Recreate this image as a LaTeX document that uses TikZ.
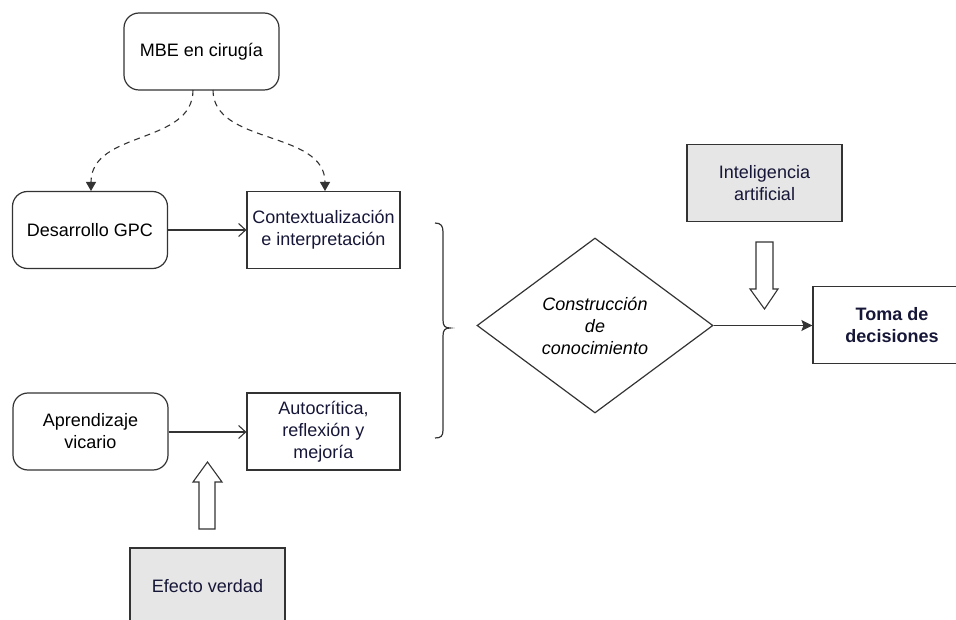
\documentclass[tikz,border=0pt]{standalone}
\usepackage{fontspec}
\setmainfont{Liberation Sans}
\usetikzlibrary{arrows.meta,shapes.geometric}
\definecolor{ln}{HTML}{333333}
\definecolor{gfill}{HTML}{E6E6E6}
\definecolor{navy}{HTML}{161638}
\begin{document}
\begin{tikzpicture}[x=1pt,y=-1pt,
  every node/.style={font=\fontsize{18}{22}\selectfont, align=center, text=black, inner sep=2pt},
  rbox/.style={draw=ln, line width=1.2pt, rounded corners=15pt, minimum width=155pt, minimum height=77pt},
  sbox/.style={draw=ln, line width=1.2pt, minimum width=153pt, minimum height=77pt},
  gbox/.style={draw=ln, line width=1.2pt, fill=gfill, minimum width=155pt, minimum height=77pt},
  conn/.style={draw=ln, line width=1.1pt},
  dconn/.style={draw=ln, line width=1.1pt, dash pattern=on 6pt off 5pt, -{Triangle[length=9pt,width=10pt]}},
  barrow/.style={draw=ln, line width=1.1pt, fill=white}
]
\useasboundingbox (0,0) rectangle (956,620);

\node[rbox] (mbe) at (201.5,51.5) {MBE en cirugía};
\node[rbox] (gpc) at (90,230) {Desarrollo GPC};
\node[sbox, text=navy] (ctx) at (323.5,230) {Contextualización\\e interpretación};
\node[rbox] (apr) at (90.5,431.5) {Aprendizaje\\vicario};
\node[sbox, text=navy] (auto) at (323.5,431.5) {Autocrítica,\\reflexión y\\mejoría};
\node[gbox, text=navy] (efecto) at (207.5,586.5) {Efecto verdad};
\node[gbox, text=navy] (ia) at (764.5,183) {Inteligencia\\artificial};
\node[draw=ln, line width=1.2pt, diamond, minimum width=236pt, minimum height=175pt, inner sep=0pt,
      font=\fontsize{18}{22}\selectfont\itshape] (dia) at (595,325.5) {Construcción\\de\\conocimiento};
\node[sbox, text=navy, minimum width=158pt, font=\fontsize{18}{22}\selectfont\bfseries] (toma) at (892,325) {Toma de\\decisiones};

% dashed curved arrows
\coordinate (m1) at (193,90);
\coordinate (m2) at (213,90);
\coordinate (g1) at (91,191);
\coordinate (c1) at (325,191);
\draw[dconn] (m1) .. controls (193,145) and (91,130) .. (g1);
\draw[dconn] (m2) .. controls (213,145) and (325,130) .. (c1);

% solid arrows
\draw[conn, -{Straight Barb[length=7pt,width=13pt]}] (gpc.east) -- (ctx.west);
\draw[conn, -{Straight Barb[length=7pt,width=13pt]}] (apr.east |- 0,432) -- (auto.west |- 0,432);
\draw[conn, -{Stealth[length=11pt,width=11pt,inset=2pt]}] (dia.east) -- (toma.west |- dia.east);

% brace
\draw[ln, line width=1.2pt] (435,223) .. controls (441,223) and (443,226) .. (443,232)
  -- (443,320) .. controls (443,326) and (445,328) .. (450,328)
  .. controls (445,328) and (443,330) .. (443,336)
  -- (443,430) .. controls (443,436) and (441,438) .. (435,438);

% block arrow up (Efecto verdad)
\draw[barrow] (207.5,462) -- (222,482) -- (215,482) -- (215,529) -- (199,529) -- (199,482) -- (193,482) -- cycle;
% block arrow down (Inteligencia artificial)
\draw[barrow] (764.5,309) -- (778,289) -- (773,289) -- (773,242) -- (756,242) -- (756,289) -- (750,289) -- cycle;
\end{tikzpicture}
\end{document}
